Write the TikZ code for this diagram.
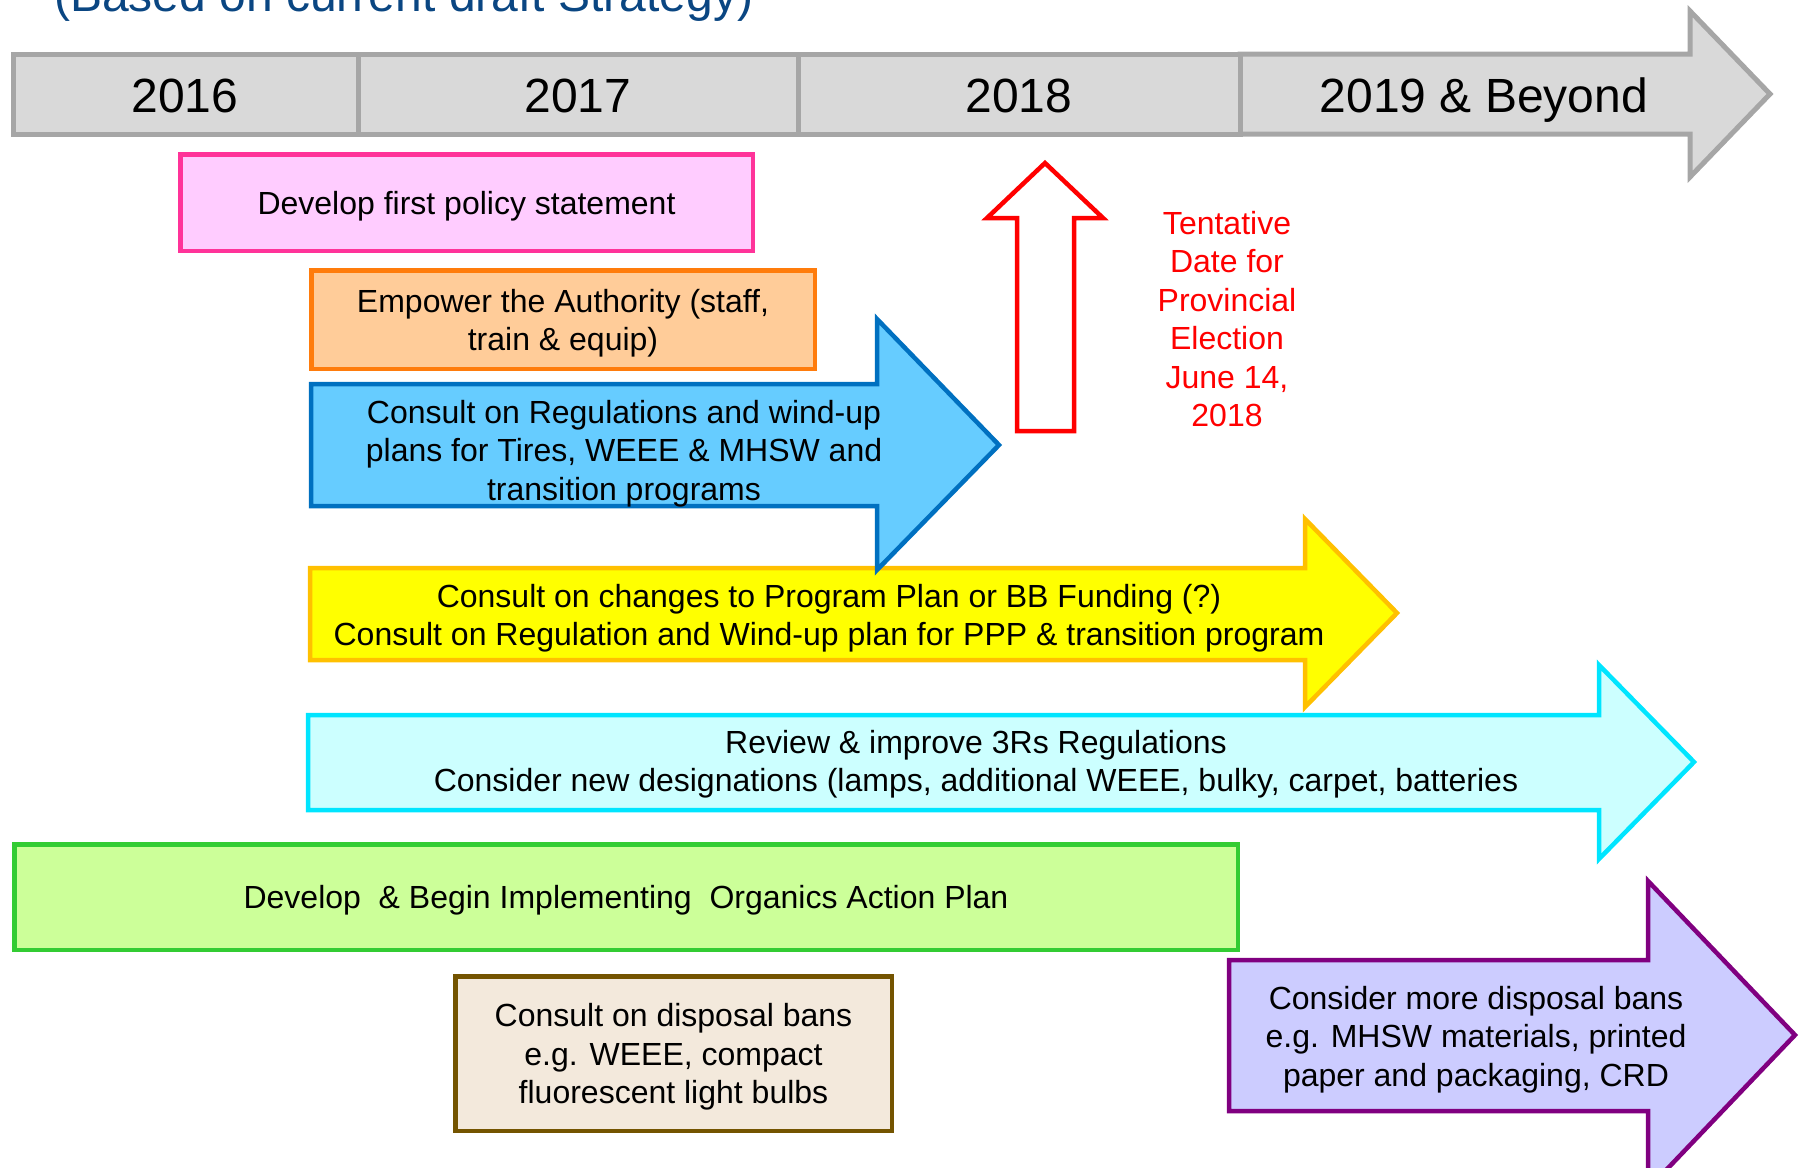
\documentclass[tikz,border=0pt]{standalone}
\usepackage{fontspec}
\setmainfont{Liberation Sans}
\definecolor{barFill}{HTML}{D9D9D9}
\definecolor{barEdge}{HTML}{A6A6A6}
\definecolor{titleBlue}{RGB}{10,70,130}
\definecolor{pinkFill}{HTML}{FFCCFF}
\definecolor{pinkEdge}{HTML}{FF3399}
\definecolor{orangeFill}{HTML}{FFCC99}
\definecolor{orangeEdge}{HTML}{FF7C0C}
\definecolor{blueFill}{HTML}{66CCFF}
\definecolor{blueEdge}{HTML}{0070C0}
\definecolor{yellowFill}{HTML}{FFFF00}
\definecolor{yellowEdge}{HTML}{FFC000}
\definecolor{cyanFill}{HTML}{CCFFFF}
\definecolor{cyanEdge}{HTML}{00E5FF}
\definecolor{greenFill}{HTML}{CCFF99}
\definecolor{greenEdge}{HTML}{33CC33}
\definecolor{brownFill}{HTML}{F3E9DC}
\definecolor{brownEdge}{HTML}{745400}
\definecolor{purpleFill}{HTML}{CCCCFF}
\definecolor{purpleEdge}{HTML}{800080}
\tikzstyle{titleText}    = [font=\fontsize{48}{57.6}\selectfont,
                            text=titleBlue,
                            inner sep=0pt]
\tikzstyle{yearBar}      = [draw=barEdge,
                            fill=barFill,
                            line width=5pt]
\tikzstyle{yearLabel}    = [font=\fontsize{48}{57.6}\selectfont,
                            inner sep=0pt,
                            anchor=base]
\tikzstyle{taskText}     = [align=center,
                            font=\fontsize{32}{38.4}\selectfont,
                            inner sep=0pt]
\tikzstyle{taskBox}      = [rectangle,
                            inner sep=0pt,
                            line width=4.5pt]
\tikzstyle{pinkTask}     = [taskBox, draw=pinkEdge, fill=pinkFill]
\tikzstyle{orangeTask}   = [taskBox, draw=orangeEdge, fill=orangeFill]
\tikzstyle{greenTask}    = [taskBox, draw=greenEdge, fill=greenFill]
\tikzstyle{brownTask}    = [taskBox, draw=brownEdge, fill=brownFill]
\tikzstyle{blueArrow}    = [line width=4.5pt, draw=blueEdge, fill=blueFill]
\tikzstyle{yellowArrow}  = [line width=4.5pt, draw=yellowEdge, fill=yellowFill]
\tikzstyle{cyanArrow}    = [line width=4.5pt, draw=cyanEdge, fill=cyanFill]
\tikzstyle{purpleArrow}  = [line width=4.5pt, draw=purpleEdge, fill=purpleFill]
\tikzstyle{electionArrow}= [line width=4.5pt, draw=red, fill=white]
\tikzstyle{electionText} = [taskText, text=red]
\begin{document}
\begin{tikzpicture}[x=1pt, y=-1pt]
\useasboundingbox (0,0) rectangle (1801,1167);
\clip (0,0) rectangle (1801,1167);

% title, cut off at the top
\node [titleText, anchor=base west] (title) at (54,12) {(Based on current draft Strategy)};

% timeline
\draw [yearBar] (1240,54) -- (1690,54) -- (1690,11) -- (1770,94)
               -- (1690,177) -- (1690,134) -- (1240,134) -- cycle;
\draw [yearBar] (13,54) rectangle (358,134);
\draw [yearBar] (358,54) rectangle (798,134);
\draw [yearBar] (798,54) rectangle (1240,134);

\node [yearLabel] (y2016)   at (185,112) {2016};
\node [yearLabel] (y2017)   at (578,112) {2017};
\node [yearLabel] (y2018)   at (1019,112) {2018};
\node [yearLabel] (yBeyond) at (1484,112) {2019 \& Beyond};

% election marker
\draw [electionArrow] (1017,431) -- (1017,218) -- (987,218) -- (1045,163)
                     -- (1103,218) -- (1074,218) -- (1074,431) -- cycle;
\node [electionText] (election) at (1227,319) {
    Tentative \\ Date for \\ Provincial \\ Election \\ June 14, \\ 2018
    };

% boxes
\node [pinkTask, minimum width=572.5pt, minimum height=96.5pt] (policy)
      at (466.5,202.5) {};
\node [taskText] (policyText) at ([yshift=-3.5pt] policy.center)
      {Develop first policy statement};
\node [orangeTask, minimum width=503.5pt, minimum height=98.5pt] (authority)
      at (563,319.5) {};
\node [taskText] (authorityText) at ([yshift=-3.5pt] authority.center)
      {Empower the Authority (staff, \\ train \& equip)};

% arrows
\draw [cyanArrow] (308,715) -- (1599,715) -- (1599,665) -- (1694,762)
                 -- (1599,859) -- (1599,810) -- (308,810) -- cycle;
\draw [yellowArrow] (310,568) -- (1305,568) -- (1305,519) -- (1397,613)
                   -- (1305,707) -- (1305,660) -- (310,660) -- cycle;
\draw [blueArrow] (311,384) -- (877,384) -- (877,319) -- (999,445)
                 -- (877,570) -- (877,506) -- (311,506) -- cycle;
\draw [purpleArrow] (1229,960) -- (1648,960) -- (1648,881) -- (1795,1035)
                   -- (1648,1189) -- (1648,1111) -- (1229,1111) -- cycle;

\node [taskText] (regulations) at (624,453.5) {
    Consult on Regulations and wind-up \\
    plans for Tires, WEEE \& MHSW and \\
    transition programs
    };
\node [taskText] (ppp) at (829,618) {
    Consult on changes to Program Plan or BB Funding (?) \\
    Consult on Regulation and Wind-up plan for PPP \& transition program
    };
\node [taskText] (review) at (976,764) {
    Review \& improve 3Rs Regulations \\
    Consider new designations (lamps, additional WEEE, bulky, carpet, batteries
    };
\node [taskText] (moreBans) at (1476,1039.5) {
    Consider more disposal bans \\
    e.g. MHSW materials, printed \\
    paper and packaging, CRD
    };

\node [greenTask, minimum width=1223.5pt, minimum height=105.5pt] (organics)
      at (626,897) {};
\node [taskText] (organicsText) at ([yshift=-3.5pt] organics.center)
      {Develop\ \ \& Begin Implementing\ \ Organics Action Plan};
\node [brownTask, minimum width=436.5pt, minimum height=154.5pt] (bans)
      at (673.5,1053.5) {};
\node [taskText] (bansText) at ([yshift=-3.5pt] bans.center) {
    Consult on disposal bans \\ e.g. WEEE, compact \\ fluorescent light bulbs
    };
\end{tikzpicture}
\end{document}
